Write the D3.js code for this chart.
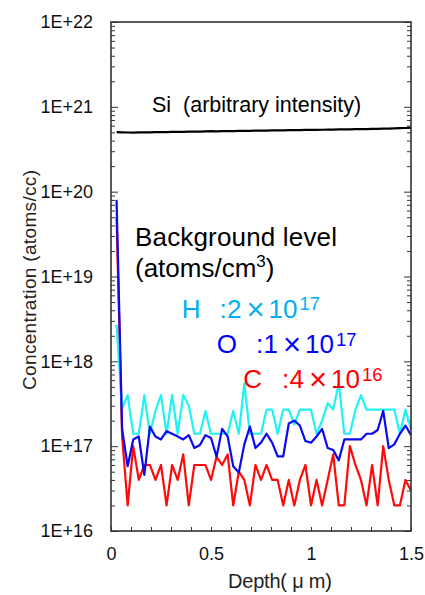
<!DOCTYPE html>
<html>
<head>
<meta charset="utf-8">
<script src="https://cdn.jsdelivr.net/npm/d3@7"></script>
<style>
  body { margin: 0; background: #fff; }
  svg { display: block; }
  text { font-family: "Liberation Sans", Arial, sans-serif; }
</style>
</head>
<body>
<svg id="chart" width="425" height="595"></svg>
<script>
// SIMS depth profile, one point every 1.5/54 um
const depthStep = 1.5 / 54;

// Si (arbitrary intensity)
const siConc = [
  5.02e20, 5.00e20, 4.98e20, 4.97e20, 4.99e20, 5.01e20, 5.00e20, 5.03e20, 5.05e20, 5.04e20,
  5.06e20, 5.08e20, 5.07e20, 5.10e20, 5.12e20, 5.11e20, 5.14e20, 5.16e20, 5.15e20, 5.17e20,
  5.19e20, 5.18e20, 5.20e20, 5.22e20, 5.21e20, 5.24e20, 5.26e20, 5.25e20, 5.27e20, 5.29e20,
  5.28e20, 5.31e20, 5.33e20, 5.32e20, 5.34e20, 5.36e20, 5.35e20, 5.37e20, 5.39e20, 5.38e20,
  5.41e20, 5.43e20, 5.42e20, 5.45e20, 5.47e20, 5.46e20, 5.49e20, 5.51e20, 5.53e20, 5.55e20,
  5.57e20, 5.60e20, 5.63e20, 5.66e20
];
// H
const hConc = [
  2.7e18, 2.8e17, 4e17, 1.4e17, 1.4e17, 4e17, 1.4e17, 2.6e17, 4e17, 1.4e17,
  4e17, 1.4e17, 4e17, 3e17, 1.4e17, 1.4e17, 2.6e17, 1.4e17, 1.4e17, 1.4e17,
  1.4e17, 2.6e17, 1.4e17, 5.5e17, 1.4e17, 1.4e17, 1.4e17, 2.7e17, 2.7e17, 1.4e17,
  2.7e17, 2.7e17, 1.8e17, 2.7e17, 2.7e17, 2.7e17, 1.4e17, 2e17, 3.2e17, 2.7e17,
  5.5e17, 1.4e17, 1.4e17, 2.7e17, 4e17, 2.7e17, 2.7e17, 2.7e17, 2.7e17, 2.7e17,
  2.7e17, 1.4e17, 2.7e17, 1.6e17
];
// O
const oConc = [
  8e19, 1.6e17, 5.8e16, 1.2e17, 1.3e17, 4.6e16, 1.7e17, 1.3e17, 1.2e17, 1.5e17,
  1.4e17, 1.3e17, 1.2e17, 1.35e17, 9.5e16, 1.03e17, 1.35e17, 1.25e17, 7.5e16, 1.6e17,
  1.3e17, 5.8e16, 4.9e16, 1.05e17, 1.7e17, 9.5e16, 1.1e17, 1.4e17, 1.1e17, 7.6e16,
  7.6e16, 1.85e17, 2e17, 1.75e17, 1.15e17, 1.1e17, 1.3e17, 1.6e17, 9.5e16, 9e16,
  6.8e16, 1.2e17, 1.2e17, 1.2e17, 1.2e17, 1.4e17, 1.4e17, 1.55e17, 2.6e17, 9.5e16,
  1.05e17, 1.4e17, 1.75e17, 1.35e17
];
// C
const cConc = [
  5e19, 1.3e17, 2e16, 1e17, 4e16, 6e16, 6e16, 4e16, 6e16, 2e16,
  6e16, 4e16, 8e16, 2e16, 6e16, 6e16, 6e16, 4e16, 7.5e16, 6e16,
  8e16, 2e16, 5e16, 4e16, 2e16, 6e16, 4e16, 6e16, 4e16, 4e16,
  2e16, 4e16, 2e16, 4e16, 6e16, 2e16, 4e16, 2e16, 4e16, 8e16,
  2e16, 2e16, 1e17, 6e16, 4e16, 2e16, 6e16, 2e16, 1e17, 4e16,
  2e16, 2e16, 4e16, 3e16
];

const decadeTicks = [1e16, 1e17, 1e18, 1e19, 1e20, 1e21, 1e22];
const depthTicks = [0, 0.5, 1, 1.5];

// background level notes
const noteElements = ["H", "O", "C"];
const noteCoefs = ["2", "1", "4"];
const noteExps = ["17", "17", "16"];

const colors = { si: "#000000", h: "#22f2f2", o: "#0a0af0", c: "#ff0a0a" };
const noteColors = ["#00b0f0", "#0000ff", "#ff0000"];

// ---- layout
const svg = d3.select("#chart");
const x0 = 111, x1 = 411, yTop = 22, yBot = 531;

const x = d3.scaleLinear().domain([0, 1.5]).range([x0, x1]);
const y = d3.scaleLog().domain([1e16, 1e22]).range([yBot, yTop]);

const minorConc = y.ticks().filter(v => Math.abs(Math.log10(v) - Math.round(Math.log10(v))) > 0.01);
const fmtE = v => "1E+" + Math.round(Math.log10(v));

// left axis: decades + minor ticks, all pointing inward
const left = svg.append("g").attr("transform", `translate(${x0},0)`).attr("color", "#333");
left.call(d3.axisLeft(y).tickValues(decadeTicks).tickSize(-7).tickPadding(18).tickFormat(fmtE));
left.append("g").call(d3.axisLeft(y).tickValues(minorConc).tickSize(-4).tickFormat(""));
left.selectAll(".domain").remove();
left.selectAll("text").attr("font-size", 18).attr("fill", "#111")
  .attr("font-family", '"Liberation Sans", Arial, sans-serif');

// right axis (ticks only)
const right = svg.append("g").attr("transform", `translate(${x1},0)`).attr("color", "#333");
right.call(d3.axisRight(y).tickValues(decadeTicks).tickSize(-7).tickFormat(""));
right.append("g").call(d3.axisRight(y).tickValues(minorConc).tickSize(-4).tickFormat(""));
right.selectAll(".domain").remove();

// bottom axis
const bottom = svg.append("g").attr("transform", `translate(0,${yBot})`).attr("color", "#333");
bottom.call(d3.axisBottom(x).tickValues(x.ticks(15)).tickSize(-4).tickFormat(""));
bottom.append("g").call(d3.axisBottom(x).tickValues(depthTicks).tickSize(0).tickPadding(16).tickFormat(d3.format("")));
bottom.selectAll(".domain").remove();
bottom.selectAll("text").attr("font-size", 18).attr("fill", "#111")
  .attr("font-family", '"Liberation Sans", Arial, sans-serif');

// profile lines
const line = d3.line()
  .x((d, i) => x((i + 1) * depthStep))
  .y(d => y(d));

const series = [
  { values: cConc, color: colors.c },
  { values: hConc, color: colors.h },
  { values: oConc, color: colors.o },
  { values: siConc, color: colors.si }
];

svg.append("g")
  .selectAll("path")
  .data(series)
  .enter()
  .append("path")
  .attr("d", d => line(d.values))
  .attr("fill", "none")
  .attr("stroke", d => d.color)
  .attr("stroke-width", 2.2)
  .attr("stroke-linejoin", "round");

// frame
svg.append("rect")
  .attr("x", x0).attr("y", yTop)
  .attr("width", x1 - x0).attr("height", yBot - yTop)
  .attr("fill", "none").attr("stroke", "#333").attr("stroke-width", 1.6);

// axis titles
svg.append("text")
  .attr("transform", "translate(36,280) rotate(-90)")
  .attr("text-anchor", "middle")
  .attr("font-size", 19)
  .attr("fill", "#222")
  .attr("textLength", 220)
  .text("Concentration (atoms/cc)");

svg.append("text")
  .attr("x", 228).attr("y", 588)
  .attr("font-size", 20)
  .attr("fill", "#222")
  .attr("textLength", 104)
  .attr("xml:space", "preserve")
  .text("Depth( \u03bc m)");

// annotations
svg.append("text")
  .attr("x", 152).attr("y", 111.5)
  .attr("font-size", 21.5)
  .attr("xml:space", "preserve")
  .style("white-space", "pre")
  .text("Si  (arbitrary intensity)");

svg.append("text")
  .attr("x", 135).attr("y", 245.5)
  .attr("font-size", 26)
  .attr("textLength", 202)
  .text("Background level");

const unit = svg.append("text")
  .attr("x", 135).attr("y", 276.5)
  .attr("font-size", 26);
unit.append("tspan").text("(atoms/cm");
unit.append("tspan").attr("font-size", 17).attr("dy", -10).text("3");
unit.append("tspan").attr("dy", 10).text(")");

const nameX = [181.7, 216.7, 243.3];
const colonX = [219.5, 256, 282];
const rowY = [317.7, 353.3, 388.3];

noteElements.forEach((el, i) => {
  const g = svg.append("g").attr("fill", noteColors[i]);
  g.append("text").attr("x", nameX[i]).attr("y", rowY[i]).attr("font-size", 26).text(el);
  g.append("text").attr("x", colonX[i]).attr("y", rowY[i]).attr("font-size", 26).text(":");
  g.append("text").attr("x", colonX[i] + 7.5).attr("y", rowY[i]).attr("font-size", 26).text(noteCoefs[i]);
  g.append("text").attr("x", colonX[i] + 36).attr("y", rowY[i] + 2)
    .attr("text-anchor", "middle").attr("font-size", 31).text("\u00d7");
  g.append("text").attr("x", colonX[i] + 49).attr("y", rowY[i]).attr("font-size", 26).text("10");
  g.append("text").attr("x", colonX[i] + 80).attr("y", rowY[i] - 7.5).attr("font-size", 18.5).text(noteExps[i]);
});
</script>
</body>
</html>
